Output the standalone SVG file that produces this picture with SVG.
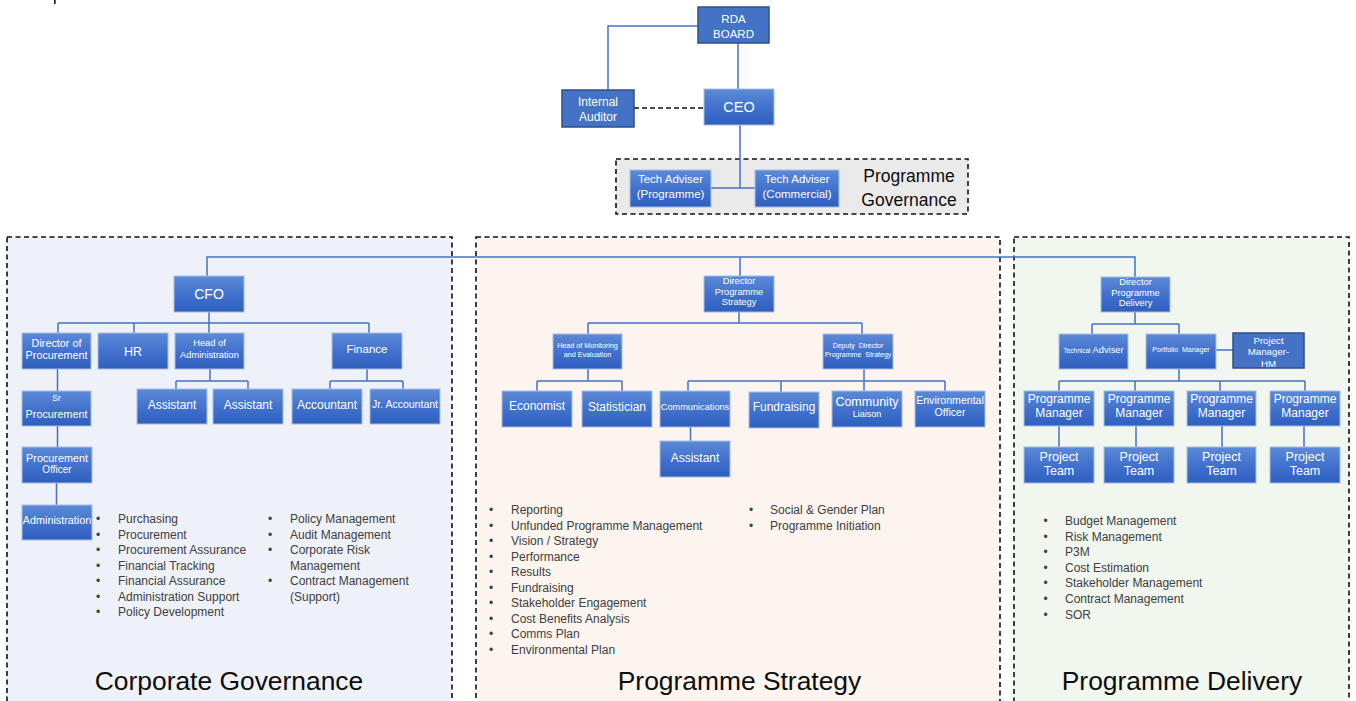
<svg xmlns="http://www.w3.org/2000/svg" width="1356" height="701" viewBox="0 0 1356 701">
  <defs>
    <linearGradient id="boxFill" x1="0" y1="0" x2="0" y2="1">
      <stop offset="0" stop-color="#5D8AD7"/>
      <stop offset="0.5" stop-color="#4272CD"/>
      <stop offset="1" stop-color="#2E5FBF"/>
    </linearGradient>
    <style>
      text { font-family: "Liberation Sans", Arial, sans-serif; }
      .box { fill: url(#boxFill); stroke: #A8BEE6; stroke-width: 1; }
      .solid { fill: #4472C4; stroke: #2F4F8A; stroke-width: 1.5; }
      .lbl { fill: #FFFFFF; text-anchor: middle; }
      .panel { stroke: #111111; stroke-width: 1.6; stroke-dasharray: 5 3.5; }
      .wire { fill: none; stroke: #4472C4; stroke-width: 1.5; }
      .dash { fill: none; stroke: #111111; stroke-width: 1.6; stroke-dasharray: 5 3; }
      .li { fill: #404040; font-size: 12px; }
      .title { fill: #0D0D0D; font-size: 26.4px; text-anchor: middle; }
      .pg { fill: #0D0D0D; font-size: 17.5px; text-anchor: middle; }
    </style>
  </defs>

  <rect width="1356" height="701" fill="#FFFFFF"/>
  <rect x="54" y="0" width="1.6" height="4" fill="#111111"/>

  <!-- section panels -->
  <g id="panels">
    <rect class="panel" x="7" y="237" width="445" height="480" fill="#EEF1F8"/>
    <rect class="panel" x="476" y="237" width="524" height="480" fill="#FBF4EF"/>
    <rect class="panel" x="1014" y="237" width="335" height="480" fill="#F1F6EE"/>
    <rect class="panel" x="616" y="159" width="352" height="55" fill="#EAEAEA"/>
  </g>

  <!-- connectors -->
  <g id="connectors">
    <path class="wire" d="M698,26 H608 V90"/>
    <path class="wire" d="M738,43 V89"/>
    <path class="dash" d="M634,108 H704"/>
    <path class="wire" d="M740,125 V188 M711,188 H755"/>
    <path class="wire" d="M207,276 V257 H1135 V277 M740,257 V276"/>
    <!-- corporate governance -->
    <path class="wire" d="M209,312 V323 M58,323 H369 M58,323 V333 M134,323 V333 M209,323 V333 M369,323 V333"/>
    <path class="wire" d="M210,369 V381 M176,381 H248 M176,381 V389 M248,381 V389"/>
    <path class="wire" d="M367,369 V381 M330,381 H403 M330,381 V389 M403,381 V389"/>
    <path class="wire" d="M57.5,369 V391 M57.5,426 V447 M56.5,483 V505"/>
    <!-- programme strategy -->
    <path class="wire" d="M739,312 V323 M588,323 H862 M588,323 V334 M862,323 V334"/>
    <path class="wire" d="M588,369 V381 M537,381 H622 M537,381 V391 M622,381 V391"/>
    <path class="wire" d="M864,369 V381 M688,381 H945 M688,381 V391 M781,381 V392 M864,381 V391 M945,381 V391"/>
    <path class="wire" d="M690.5,427 V441"/>
    <!-- programme delivery -->
    <path class="wire" d="M1135,312 V324 M1092,324 H1179 M1092,324 V334 M1179,324 V334"/>
    <path class="wire" d="M1216,350 H1233"/>
    <path class="wire" d="M1179,369 V381 M1059,381 H1305 M1059,381 V391 M1135,381 V391 M1220,381 V391 M1305,381 V391"/>
    <path class="wire" d="M1059,426 V447 M1136,426 V447 M1222,426 V447 M1304,426 V447"/>
  </g>

  <!-- executive -->
  <g id="rda-board">
    <rect class="solid" x="698" y="7" width="71" height="36"/>
    <text class="lbl" x="733.5" y="22.5" font-size="11.5">RDA</text>
    <text class="lbl" x="733.5" y="37.5" font-size="11.5">BOARD</text>
  </g>
  <g id="internal-auditor">
    <rect class="solid" x="562" y="90" width="72" height="37"/>
    <text class="lbl" x="598" y="105.5" font-size="12">Internal</text>
    <text class="lbl" x="598" y="121" font-size="12">Auditor</text>
  </g>
  <g id="ceo">
    <rect class="box" x="704" y="89" width="70" height="36"/>
    <text class="lbl" x="739" y="112" font-size="14.5">CEO</text>
  </g>
  <g id="tech-adviser-programme">
    <rect class="box" x="630" y="170" width="81" height="37"/>
    <text class="lbl" x="670.5" y="183" font-size="11.5">Tech Adviser</text>
    <text class="lbl" x="670.5" y="197.5" font-size="11.5">(Programme)</text>
  </g>
  <g id="tech-adviser-commercial">
    <rect class="box" x="755" y="170" width="84" height="37"/>
    <text class="lbl" x="797" y="183" font-size="11.5">Tech Adviser</text>
    <text class="lbl" x="797" y="197.5" font-size="11.5">(Commercial)</text>
  </g>
  <g id="programme-governance-label">
    <text class="pg" x="909" y="182">Programme</text>
    <text class="pg" x="909" y="206">Governance</text>
  </g>

  <!-- corporate governance -->
  <g id="cfo">
    <rect class="box" x="174" y="276" width="70" height="36"/>
    <text class="lbl" x="209" y="299" font-size="14">CFO</text>
  </g>
  <g id="director-procurement">
    <rect class="box" x="22" y="333" width="69" height="36"/>
    <text class="lbl" x="56.5" y="346.5" font-size="10.8">Director of</text>
    <text class="lbl" x="56.5" y="359" font-size="10.8">Procurement</text>
  </g>
  <g id="hr">
    <rect class="box" x="98" y="333" width="70" height="36"/>
    <text class="lbl" x="133" y="355.5" font-size="12.5">HR</text>
  </g>
  <g id="head-administration">
    <rect class="box" x="175" y="333" width="69" height="36"/>
    <text class="lbl" x="209.5" y="346" font-size="9.3">Head of</text>
    <text class="lbl" x="209.5" y="357.5" font-size="9.3">Administration</text>
  </g>
  <g id="finance">
    <rect class="box" x="332" y="333" width="70" height="36"/>
    <text class="lbl" x="367" y="352.5" font-size="11.5">Finance</text>
  </g>
  <g id="admin-assistant-1">
    <rect class="box" x="137" y="389" width="70" height="35"/>
    <text class="lbl" x="172" y="408.5" font-size="12">Assistant</text>
  </g>
  <g id="admin-assistant-2">
    <rect class="box" x="213" y="389" width="70" height="35"/>
    <text class="lbl" x="248" y="408.5" font-size="12">Assistant</text>
  </g>
  <g id="accountant">
    <rect class="box" x="292" y="389" width="70" height="35"/>
    <text class="lbl" x="327" y="408.5" font-size="12">Accountant</text>
  </g>
  <g id="jr-accountant">
    <rect class="box" x="370" y="389" width="70" height="35"/>
    <text class="lbl" x="405" y="408" font-size="10.5">Jr. Accountant</text>
  </g>
  <g id="sr-procurement">
    <rect class="box" x="22" y="391" width="69" height="35"/>
    <text class="lbl" x="56.5" y="400.5" font-size="8.5">Sr</text>
    <text class="lbl" x="56.5" y="417.5" font-size="10.8">Procurement</text>
  </g>
  <g id="procurement-officer">
    <rect class="box" x="22" y="447" width="70" height="36"/>
    <text class="lbl" x="57" y="461.5" font-size="10.8">Procurement</text>
    <text class="lbl" x="57" y="472.5" font-size="10">Officer</text>
  </g>
  <g id="administration">
    <rect class="box" x="22" y="505" width="70" height="35"/>
    <text class="lbl" x="57" y="523.5" font-size="10.8">Administration</text>
  </g>
  <g id="corporate-duties">
    <text class="li" x="96" y="523">•</text><text class="li" x="118" y="523">Purchasing</text>
    <text class="li" x="96" y="538.5">•</text><text class="li" x="118" y="538.5">Procurement</text>
    <text class="li" x="96" y="554">•</text><text class="li" x="118" y="554">Procurement Assurance</text>
    <text class="li" x="96" y="569.5">•</text><text class="li" x="118" y="569.5">Financial Tracking</text>
    <text class="li" x="96" y="585">•</text><text class="li" x="118" y="585">Financial Assurance</text>
    <text class="li" x="96" y="600.5">•</text><text class="li" x="118" y="600.5">Administration Support</text>
    <text class="li" x="96" y="616">•</text><text class="li" x="118" y="616">Policy Development</text>
    <text class="li" x="268" y="523">•</text><text class="li" x="290" y="523">Policy Management</text>
    <text class="li" x="268" y="538.5">•</text><text class="li" x="290" y="538.5">Audit Management</text>
    <text class="li" x="268" y="554">•</text><text class="li" x="290" y="554">Corporate Risk</text>
    <text class="li" x="290" y="569.5">Management</text>
    <text class="li" x="268" y="585">•</text><text class="li" x="290" y="585">Contract Management</text>
    <text class="li" x="290" y="600.5">(Support)</text>
  </g>
  <text class="title" x="229" y="689.5">Corporate Governance</text>

  <!-- programme strategy -->
  <g id="director-programme-strategy">
    <rect class="box" x="704" y="276" width="70" height="36"/>
    <text class="lbl" x="739" y="283.5" font-size="9.3">Director</text>
    <text class="lbl" x="739" y="294.5" font-size="9.3">Programme</text>
    <text class="lbl" x="739" y="304.5" font-size="9.3">Strategy</text>
  </g>
  <g id="head-monitoring-evaluation">
    <rect class="box" x="553" y="334" width="69" height="35"/>
    <text class="lbl" x="587.5" y="348.2" font-size="7.2">Head of Monitoring</text>
    <text class="lbl" x="587.5" y="356.8" font-size="7.2">and Evaluation</text>
  </g>
  <g id="deputy-director-strategy">
    <rect class="box" x="823" y="334" width="70" height="35"/>
    <text class="lbl" x="858" y="348.2" font-size="7" word-spacing="2">Deputy Director</text>
    <text class="lbl" x="858" y="356.8" font-size="7" word-spacing="2">Programme Strategy</text>
  </g>
  <g id="economist">
    <rect class="box" x="502" y="391" width="70" height="36"/>
    <text class="lbl" x="537" y="410" font-size="12">Economist</text>
  </g>
  <g id="statistician">
    <rect class="box" x="582" y="391" width="70" height="36"/>
    <text class="lbl" x="617" y="410.5" font-size="12">Statistician</text>
  </g>
  <g id="communications">
    <rect class="box" x="660" y="391" width="70" height="36"/>
    <text class="lbl" x="695" y="410" font-size="9.2">Communications</text>
  </g>
  <g id="fundraising">
    <rect class="box" x="749" y="392" width="70" height="36"/>
    <text class="lbl" x="784" y="411" font-size="12">Fundraising</text>
  </g>
  <g id="community-liaison">
    <rect class="box" x="832" y="391" width="70" height="36"/>
    <text class="lbl" x="867" y="405.5" font-size="12.5">Community</text>
    <text class="lbl" x="867" y="416.5" font-size="9">Liaison</text>
  </g>
  <g id="environmental-officer">
    <rect class="box" x="915" y="391" width="70" height="36"/>
    <text class="lbl" x="950" y="404" font-size="10.6">Environmental</text>
    <text class="lbl" x="950" y="416" font-size="10.6">Officer</text>
  </g>
  <g id="comms-assistant">
    <rect class="box" x="660" y="441" width="70" height="36"/>
    <text class="lbl" x="695" y="461.5" font-size="12">Assistant</text>
  </g>
  <g id="strategy-duties">
    <text class="li" x="489" y="514">•</text><text class="li" x="511" y="514">Reporting</text>
    <text class="li" x="489" y="529.5">•</text><text class="li" x="511" y="529.5">Unfunded Programme Management</text>
    <text class="li" x="489" y="545">•</text><text class="li" x="511" y="545">Vision / Strategy</text>
    <text class="li" x="489" y="560.5">•</text><text class="li" x="511" y="560.5">Performance</text>
    <text class="li" x="489" y="576">•</text><text class="li" x="511" y="576">Results</text>
    <text class="li" x="489" y="591.5">•</text><text class="li" x="511" y="591.5">Fundraising</text>
    <text class="li" x="489" y="607">•</text><text class="li" x="511" y="607">Stakeholder Engagement</text>
    <text class="li" x="489" y="622.5">•</text><text class="li" x="511" y="622.5">Cost Benefits Analysis</text>
    <text class="li" x="489" y="638">•</text><text class="li" x="511" y="638">Comms Plan</text>
    <text class="li" x="489" y="653.5">•</text><text class="li" x="511" y="653.5">Environmental Plan</text>
    <text class="li" x="749" y="514">•</text><text class="li" x="770" y="514">Social &amp; Gender Plan</text>
    <text class="li" x="749" y="529.5">•</text><text class="li" x="770" y="529.5">Programme Initiation</text>
  </g>
  <text class="title" x="739.5" y="689.5">Programme Strategy</text>

  <!-- programme delivery -->
  <g id="director-programme-delivery">
    <rect class="box" x="1101" y="277" width="69" height="35"/>
    <text class="lbl" x="1135.5" y="285" font-size="9.3">Director</text>
    <text class="lbl" x="1135.5" y="296" font-size="9.3">Programme</text>
    <text class="lbl" x="1135.5" y="306" font-size="9.3">Delivery</text>
  </g>
  <g id="technical-adviser">
    <rect class="box" x="1059" y="334" width="69" height="35"/>
    <text class="lbl" x="1093.5" y="352.5"><tspan font-size="6.5">Technical</tspan><tspan font-size="9.3"> Adviser</tspan></text>
  </g>
  <g id="portfolio-manager">
    <rect class="box" x="1146" y="334" width="70" height="35"/>
    <text class="lbl" x="1181" y="352" font-size="7" word-spacing="2">Portfolio Manager</text>
  </g>
  <g id="project-manager-hm">
    <rect class="solid" x="1233" y="333" width="71" height="35"/>
    <text class="lbl" x="1268.5" y="343.5" font-size="9.7">Project</text>
    <text class="lbl" x="1268.5" y="355" font-size="9.7">Manager-</text>
    <text class="lbl" x="1268.5" y="366.5" font-size="9.7">HM</text>
  </g>
  <g id="programme-manager-1">
    <rect class="box" x="1024" y="391" width="70" height="35"/>
    <text class="lbl" x="1059" y="403.2" font-size="12">Programme</text>
    <text class="lbl" x="1059" y="417.2" font-size="12">Manager</text>
  </g>
  <g id="programme-manager-2">
    <rect class="box" x="1104" y="391" width="70" height="35"/>
    <text class="lbl" x="1139" y="403.2" font-size="12">Programme</text>
    <text class="lbl" x="1139" y="417.2" font-size="12">Manager</text>
  </g>
  <g id="programme-manager-3">
    <rect class="box" x="1187" y="391" width="69" height="35"/>
    <text class="lbl" x="1221.5" y="403.2" font-size="12">Programme</text>
    <text class="lbl" x="1221.5" y="417.2" font-size="12">Manager</text>
  </g>
  <g id="programme-manager-4">
    <rect class="box" x="1270" y="391" width="70" height="35"/>
    <text class="lbl" x="1305" y="403.2" font-size="12">Programme</text>
    <text class="lbl" x="1305" y="417.2" font-size="12">Manager</text>
  </g>
  <g id="project-team-1">
    <rect class="box" x="1024" y="447" width="70" height="36"/>
    <text class="lbl" x="1059" y="461" font-size="12.5">Project</text>
    <text class="lbl" x="1059" y="475" font-size="12.5">Team</text>
  </g>
  <g id="project-team-2">
    <rect class="box" x="1104" y="447" width="70" height="36"/>
    <text class="lbl" x="1139" y="461" font-size="12.5">Project</text>
    <text class="lbl" x="1139" y="475" font-size="12.5">Team</text>
  </g>
  <g id="project-team-3">
    <rect class="box" x="1187" y="447" width="69" height="36"/>
    <text class="lbl" x="1221.5" y="461" font-size="12.5">Project</text>
    <text class="lbl" x="1221.5" y="475" font-size="12.5">Team</text>
  </g>
  <g id="project-team-4">
    <rect class="box" x="1270" y="447" width="70" height="36"/>
    <text class="lbl" x="1305" y="461" font-size="12.5">Project</text>
    <text class="lbl" x="1305" y="475" font-size="12.5">Team</text>
  </g>
  <g id="delivery-duties">
    <text class="li" x="1043.5" y="525">•</text><text class="li" x="1065" y="525">Budget Management</text>
    <text class="li" x="1043.5" y="540.5">•</text><text class="li" x="1065" y="540.5">Risk Management</text>
    <text class="li" x="1043.5" y="556">•</text><text class="li" x="1065" y="556">P3M</text>
    <text class="li" x="1043.5" y="571.5">•</text><text class="li" x="1065" y="571.5">Cost Estimation</text>
    <text class="li" x="1043.5" y="587">•</text><text class="li" x="1065" y="587">Stakeholder Management</text>
    <text class="li" x="1043.5" y="602.5">•</text><text class="li" x="1065" y="602.5">Contract Management</text>
    <text class="li" x="1043.5" y="618.5">•</text><text class="li" x="1065" y="618.5">SOR</text>
  </g>
  <text class="title" x="1182" y="690">Programme Delivery</text>
</svg>
